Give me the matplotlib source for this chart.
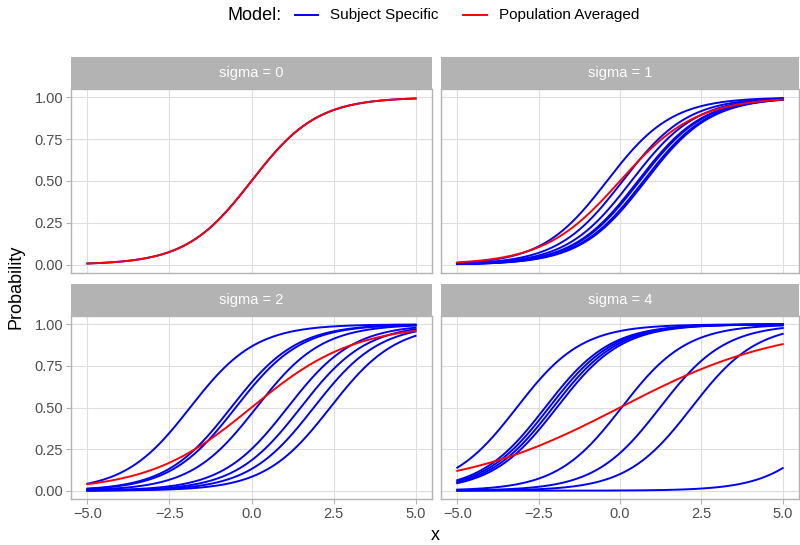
import numpy as np
import matplotlib.pyplot as plt
from matplotlib.lines import Line2D

plt.rcParams['font.family'] = ['Liberation Sans', 'DejaVu Sans']

sigmas = [0, 1, 2, 4]
# x where each subject specific curve crosses 0.5
subject_mid = {
    0: [0.0],
    1: [-0.4, 0.08, 0.35, 0.55, 0.6, 0.72, 0.78],
    2: [-1.87, -0.62, -0.48, 0.15, 1.1, 1.5, 1.9, 2.4],
    4: [-3.17, -2.3, -2.18, -2.06, -1.94, 0.05, 1.23, 2.2, 6.85],
}
# slope of the population averaged curve in each panel
pop_slope = [1.0, 0.86, 0.64, 0.40]
x_ticks = [-5.0, -2.5, 0.0, 2.5, 5.0]
y_ticks = [0.00, 0.25, 0.50, 0.75, 1.00]

W, H = 800, 545
fig = plt.figure(figsize=(W / 100, H / 100), dpi=100)

def px_box(l, r, t, b):
    return [l / W, 1 - b / H, (r - l) / W, (b - t) / H]

cols = [(71, 432), (441, 799)]
rows = [(57, 89, 273), (284, 316, 499)]
x = np.linspace(-5, 5, 301)

for i, s in enumerate(sigmas):
    r, c = divmod(i, 2)
    l, rr = cols[c]
    st, pt, pb = rows[r]
    ax = fig.add_axes(px_box(l, rr, pt, pb))
    for m in subject_mid[s]:
        ax.plot(x, 1 / (1 + np.exp(-(x - m))), color='#0000FF', lw=1.4)
    ax.plot(x, 1 / (1 + np.exp(-pop_slope[i] * x)), color='#FF0000', lw=1.4)
    ax.set_xlim(-5.5, 5.5)
    ax.set_ylim(-0.05, 1.05)
    ax.set_xticks(x_ticks)
    ax.set_yticks(y_ticks)
    ax.grid(True, color='#dedede', lw=0.8)
    ax.set_axisbelow(True)
    for sp in ax.spines.values():
        sp.set_color('#b3b3b3')
        sp.set_linewidth(1.0)
    ax.tick_params(colors='#b3b3b3', labelcolor='#4d4d4d', labelsize=10.5,
                   length=3.5, width=0.8, pad=2)
    if r == 0:
        ax.tick_params(axis='x', bottom=False, labelbottom=False)
    else:
        ax.set_xticklabels(['\u22125.0', '\u22122.5', '0.0', '2.5', '5.0'])
    if c == 1:
        ax.tick_params(axis='y', left=False, labelleft=False)
    else:
        ax.set_yticklabels(['%.2f' % v for v in y_ticks])

    sax = fig.add_axes(px_box(l, rr, st, pt))
    sax.set_facecolor('#b3b3b3')
    sax.set_xticks([])
    sax.set_yticks([])
    for sp in sax.spines.values():
        sp.set_visible(False)
    sax.text(0.5, 0.5, 'sigma = %d' % s, color='white', fontsize=10.5,
             ha='center', va='center', transform=sax.transAxes)

fig.text(16 / W, 1 - 287 / H, 'Probability', rotation=90, fontsize=13,
         ha='center', va='center')
fig.text(435 / W, 1 - 536 / H, 'x', fontsize=13, ha='center', va='center')

# legend
ly = 1 - 15 / H
fig.text(228 / W, ly, 'Model:', fontsize=13, ha='left', va='center')
fig.add_artist(Line2D([295 / W, 318 / W], [ly, ly], color='#0000FF', lw=1.4))
fig.text(330 / W, ly, 'Subject Specific', fontsize=11, ha='left', va='center')
fig.add_artist(Line2D([463 / W, 487 / W], [ly, ly], color='#FF0000', lw=1.4))
fig.text(499 / W, ly, 'Population Averaged', fontsize=11, ha='left', va='center')

fig.savefig('out.png', dpi=100, facecolor='white')
